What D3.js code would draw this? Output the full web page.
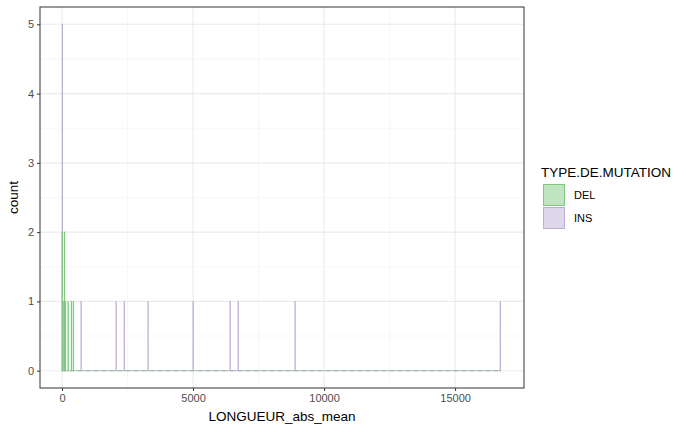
<!DOCTYPE html>
<html lang="en">
<head>
<meta charset="UTF-8">
<script src="https://cdn.jsdelivr.net/npm/d3@7"></script>
<style>body{margin:0;background:#fff;font-family:Arial,"Liberation Sans",sans-serif;}</style>
</head>
<body>
<script>
// histogram bins: start of bin (LONGUEUR_abs_mean) and count, per mutation type
let binWidth = 10;
let delStarts = [0, 90, 126, 229, 355, 431];
let delCounts = [2, 2, 1, 1, 1, 1];
let insStarts = [10, 30, 60, 725, 2060, 2370, 3280, 5000, 6410, 6720, 8890, 16720];
let insCounts = [5, 1, 1, 1, 1, 1, 1, 1, 1, 1, 1, 1];
let xTicks = [0, 5000, 10000, 15000];
let yTicks = [0, 1, 2, 3, 4, 5];
let types = ["DEL", "INS"];

let W = 700, H = 432;
let m = {l: 40, r: 176, t: 7, b: 44};
let svg = d3.select("body").append("svg").attr("width", W).attr("height", H);

let x = d3.scaleLinear().domain([-840, 17630]).range([m.l, W - m.r]);
let y = d3.scaleLinear().domain([-0.25, 5.25]).range([H - m.b, m.t]);
let stroke = {DEL: "#7fc97f", INS: "#beaed4"};
let fill = {DEL: "rgba(127,201,127,0.5)", INS: "rgba(190,174,212,0.5)"};

// grid
let g = svg.append("g");
[0.5,1.5,2.5,3.5,4.5].forEach(v => g.append("line").attr("x1", m.l).attr("x2", W - m.r).attr("y1", y(v)).attr("y2", y(v)).attr("stroke", "#f2f2f2").attr("stroke-width", 0.6));
[2500, 7500, 12500].forEach(v => g.append("line").attr("x1", x(v)).attr("x2", x(v)).attr("y1", m.t).attr("y2", H - m.b).attr("stroke", "#f2f2f2").attr("stroke-width", 0.6));
yTicks.forEach(v => g.append("line").attr("x1", m.l).attr("x2", W - m.r).attr("y1", y(v)).attr("y2", y(v)).attr("stroke", "#ebebeb").attr("stroke-width", 1.1));
xTicks.forEach(v => g.append("line").attr("x1", x(v)).attr("x2", x(v)).attr("y1", m.t).attr("y2", H - m.b).attr("stroke", "#ebebeb").attr("stroke-width", 1.1));

// zero baseline (empty bins)
let xmax = 16750;
svg.append("line").attr("x1", x(0)).attr("x2", x(xmax)).attr("y1", y(0)).attr("y2", y(0))
  .attr("stroke", stroke.INS).attr("stroke-width", 1);
svg.append("line").attr("x1", x(0)).attr("x2", x(xmax)).attr("y1", y(0)).attr("y2", y(0))
  .attr("stroke", stroke.DEL).attr("stroke-width", 1).attr("stroke-dasharray", "4,4");

function bars(starts, counts, t) {
  svg.append("g").selectAll("rect").data(starts.map((s, i) => ({s: s, c: counts[i]})))
    .enter().append("rect")
    .attr("x", d => x(d.s)).attr("width", d => Math.max(0.1, x(d.s + binWidth) - x(d.s)))
    .attr("y", d => y(d.c)).attr("height", d => y(0) - y(d.c))
    .attr("fill", fill[t]).attr("stroke", stroke[t]).attr("stroke-width", 1);
}
bars(insStarts, insCounts, "INS");
bars(delStarts, delCounts, "DEL");

// panel border
svg.append("rect").attr("x", m.l).attr("y", m.t).attr("width", W - m.r - m.l).attr("height", H - m.b - m.t)
  .attr("fill", "none").attr("stroke", "#333").attr("stroke-width", 1);

// axes
let xa = svg.append("g").attr("transform", `translate(0,${H - m.b})`).call(d3.axisBottom(x).tickValues(xTicks).tickFormat(d3.format("d")).tickSize(3).tickPadding(3));
let ya = svg.append("g").attr("transform", `translate(${m.l},0)`).call(d3.axisLeft(y).tickValues(yTicks).tickFormat(d3.format("d")).tickSize(3).tickPadding(3));
[xa, ya].forEach(a => {
  a.select(".domain").remove();
  a.selectAll("line").attr("stroke", "#333");
  a.selectAll("text").attr("fill", "#4d4d4d").style("font-size", "11px").style("font-family", "Arial, Liberation Sans");
});

svg.append("text").attr("x", (m.l + W - m.r) / 2).attr("y", 421).attr("text-anchor", "middle")
  .style("font-size", "13.5px").attr("fill", "#000").text("LONGUEUR_abs_mean");
svg.append("text").attr("transform", `translate(18,${(m.t + H - m.b) / 2}) rotate(-90)`).attr("text-anchor", "middle")
  .style("font-size", "13.5px").attr("fill", "#000").text("count");

// legend
svg.append("text").attr("x", 541).attr("y", 177).style("font-size", "13.5px").text("TYPE.DE.MUTATION");
types.forEach((t, i) => {
  let yy = 184 + i * 23;
  svg.append("rect").attr("x", 543.5).attr("y", yy + 0.5).attr("width", 21).attr("height", 21)
    .attr("fill", fill[t]).attr("stroke", stroke[t]);
  svg.append("text").attr("x", 574).attr("y", yy + 15).style("font-size", "11px").text(t);
});
</script>
</body>
</html>
